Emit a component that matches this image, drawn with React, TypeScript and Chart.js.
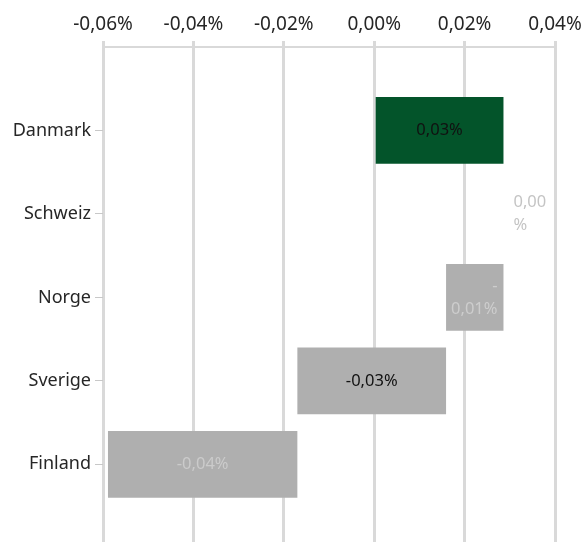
import React, { useEffect, useRef } from "react";
import { Chart, registerables } from "chart.js";

Chart.register(...registerables);

const categories = ["Danmark", "Schweiz", "Norge", "Sverige", "Finland"];
const changes = [0.0286, 0.0, -0.0127, -0.0329, -0.0419];
const barColors = ["#03542a", "#afafaf", "#afafaf", "#afafaf", "#afafaf"];
const labelLines = [["0,03%"], ["0,00", "%"], ["-", "0,01%"], ["-0,03%"], ["-0,04%"]];
const labelColors = ["#111111", "#c4c4c4", "#cdcdcd", "#111111", "#cbcbcb"];
const xTickMin = -0.06;
const xTickMax = 0.04;
const xTickStep = 0.02;

const FONT = "'Noto Sans', sans-serif";

export default function App() {
  const ref = useRef<HTMLCanvasElement | null>(null);

  useEffect(() => {
    if (!ref.current) return;
    let cum = 0;
    const data = changes.map((c, i) => {
      const s = cum;
      cum += c;
      return { x: [s, cum], y: i };
    });

    const labelPlugin = {
      id: "wfLabels",
      afterDatasetsDraw(chart: any) {
        const ctx = chart.ctx;
        const meta = chart.getDatasetMeta(0);
        ctx.save();
        ctx.font = `16.5px ${FONT}`;
        ctx.textBaseline = "middle";
        meta.data.forEach((el: any, i: number) => {
          const { x, base, y } = el.getProps(["x", "base", "y"], true);
          const left = Math.min(x, base);
          const right = Math.max(x, base);
          const lines = labelLines[i];
          const lh = 23;
          ctx.fillStyle = labelColors[i];
          let tx: number;
          if (right - left < 4) {
            ctx.textAlign = "left";
            tx = right + 10;
          } else if (lines.length > 1) {
            ctx.textAlign = "right";
            tx = right - 6;
          } else {
            ctx.textAlign = "center";
            tx = (left + right) / 2;
          }
          const y0 = y - ((lines.length - 1) * lh) / 2;
          lines.forEach((t, k) => ctx.fillText(t, tx, y0 + k * lh));
        });
        ctx.restore();
      },
    };

    const chart = new Chart(ref.current, {
      type: "bar",
      data: {
        datasets: [
          {
            data: data as any,
            backgroundColor: barColors,
            borderWidth: 0,
            categoryPercentage: 1,
            barPercentage: 0.8,
          },
        ],
      },
      options: {
        indexAxis: "y",
        animation: false,
        responsive: false,
        maintainAspectRatio: false,
        layout: { padding: { top: 0, right: 27, bottom: 0, left: 0 } },
        plugins: { legend: { display: false }, tooltip: { enabled: false } },
        scales: {
          x: {
            type: "linear",
            position: "top",
            min: xTickMin,
            max: xTickMax,
            ticks: {
              stepSize: xTickStep,
              color: "#262626",
              font: { family: FONT, size: 19 },
              padding: 5,
              callback: (v: any) => {
                const n = Math.abs(v) < 1e-9 ? 0 : Number(v);
                return n.toFixed(2).replace(".", ",") + "%";
              },
            },
            grid: { color: "#d9d9d9", lineWidth: 3, tickLength: 6, drawTicks: true },
            border: { display: true, color: "#d9d9d9", width: 2 },
            afterFit: (s: any) => {
              s.height = 47;
              s.paddingLeft = 0;
              s.paddingRight = 0;
            },
          },
          y: {
            type: "linear",
            reverse: true,
            offset: false,
            min: -1,
            max: 4.93,
            afterBuildTicks: (s: any) => {
              s.ticks = categories.map((_, i) => ({ value: i }));
            },
            ticks: {
              color: "#262626",
              font: { family: FONT, size: 18 },
              padding: 4,
              autoSkip: false,
              callback: (v: any) => categories[Math.round(Number(v))] ?? "",
            },
            grid: {
              offset: false,
              drawOnChartArea: false,
              drawTicks: true,
              tickLength: 8,
              color: "#c8c8c8",
              lineWidth: 1,
            },
            border: { display: false },
            afterFit: (s: any) => {
              s.width = 103;
              s.paddingTop = 0;
              s.paddingBottom = 0;
            },
          },
        },
      },
      plugins: [labelPlugin],
    });
    return () => chart.destroy();
  }, []);

  return (
    <div style={{ position: "absolute", left: 0, top: 0, width: 582, height: 542 }}>
      <canvas ref={ref} width={582} height={542} style={{ width: 582, height: 542 }} />
    </div>
  );
}
